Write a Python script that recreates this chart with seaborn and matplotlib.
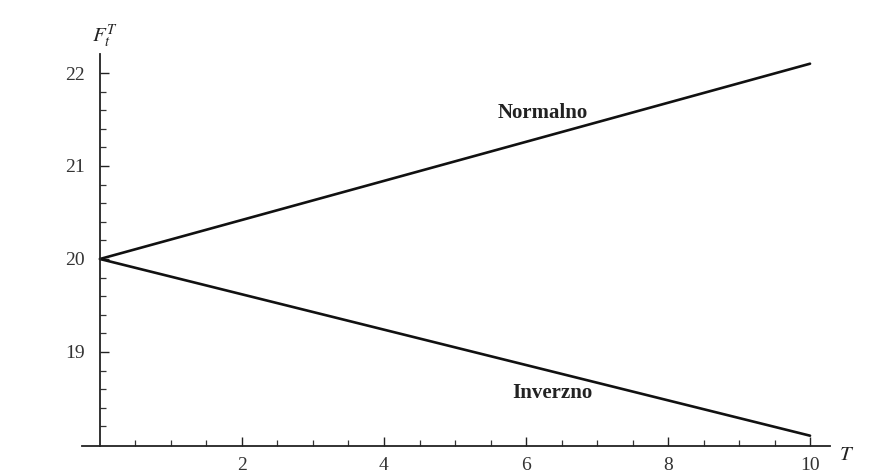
import numpy as np
import pandas as pd
import matplotlib
matplotlib.use("Agg")
import matplotlib.pyplot as plt
from matplotlib.ticker import FixedLocator
import seaborn as sns

# Data
T_vals = [0, 10]
normalno = [20.0, 22.10]
inverzno = [20.0, 18.10]
x_major = [2, 4, 6, 8, 10]
y_major = [19, 20, 21, 22]

df = pd.DataFrame({
    "T": T_vals * 2,
    "F": normalno + inverzno,
    "serija": ["Normalno"] * len(T_vals) + ["Inverzno"] * len(T_vals),
})

sns.set_theme(style="white")
plt.rcParams["font.family"] = ["Liberation Serif", "DejaVu Serif"]
plt.rcParams["mathtext.fontset"] = "stix"

fig = plt.figure(figsize=(8.75, 4.74), dpi=100)
ax = fig.add_axes([0, 0, 1, 1])
sns.lineplot(data=df, x="T", y="F", hue="serija",
             palette={"Normalno": "#111111", "Inverzno": "#111111"},
             linewidth=1.9, legend=False, ax=ax, sort=True)

ax.set_xlim(-1.408, 10.915)
ax.set_ylim(17.688, 22.785)

for s in ["top", "right"]:
    ax.spines[s].set_visible(False)
ax.spines["left"].set_position(("data", 0))
ax.spines["bottom"].set_position(("data", 17.99))
ax.spines["left"].set_bounds(17.99, 22.2)
ax.spines["bottom"].set_bounds(-0.25, 10.28)
for s in ["left", "bottom"]:
    ax.spines[s].set_color("#222222")
    ax.spines[s].set_linewidth(1.3)

ax.xaxis.set_major_locator(FixedLocator(x_major))
ax.yaxis.set_major_locator(FixedLocator(y_major))
ax.xaxis.set_minor_locator(FixedLocator(np.arange(0.5, 10.01, 0.5)))
ax.yaxis.set_minor_locator(FixedLocator(np.arange(18.2, 22.15, 0.2)))
ax.set_xticklabels([str(v) for v in x_major])
ax.set_yticklabels([str(v) for v in y_major])
ax.tick_params(axis="both", which="both", bottom=True, left=True, top=False, right=False)
ax.tick_params(axis="both", which="major", direction="in", length=6.5, width=1,
               colors="#222222", labelsize=14, labelcolor="#333333")
ax.tick_params(axis="both", which="minor", direction="in", length=4, width=0.9,
               colors="#333333")
ax.tick_params(axis="x", which="major", pad=8)
ax.tick_params(axis="y", which="major", pad=11)

ax.set_xlabel("")
ax.set_ylabel("")
ax.text(0.07, 22.39, r"$F_t^T$", fontsize=15, ha="center", va="center", color="#222222")
ax.text(10.52, 17.89, r"$T$", fontsize=15, ha="center", va="center", color="#222222")

ax.text(6.23, 21.57, "Normalno", fontsize=15, fontweight="bold", ha="center",
        va="center", color="#222222")
ax.text(6.37, 18.56, "Inverzno", fontsize=15, fontweight="bold", ha="center",
        va="center", color="#222222")

fig.savefig("out.png", dpi=100)
